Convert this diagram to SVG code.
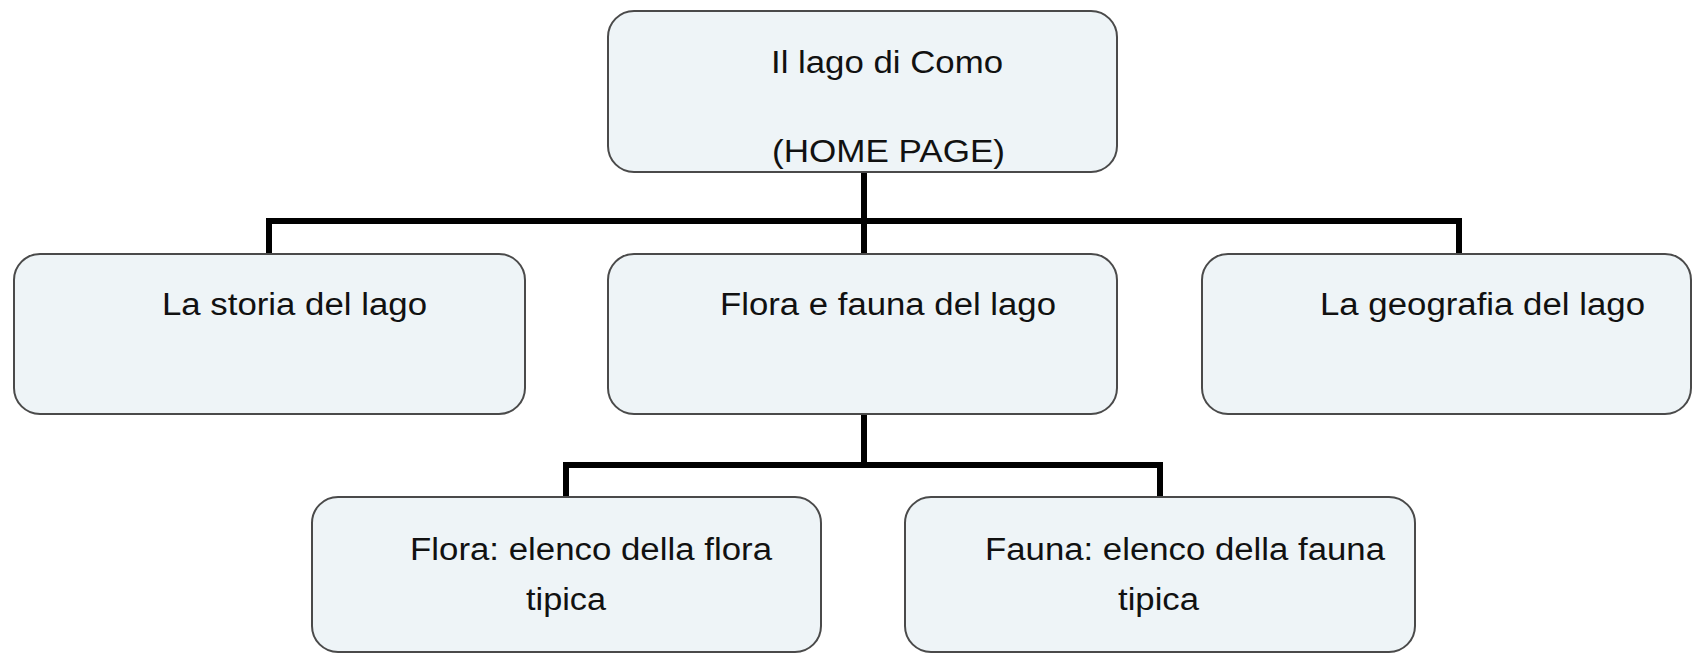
<svg xmlns="http://www.w3.org/2000/svg" width="1693" height="653" viewBox="0 0 1693 653">
<style>
.box{fill:#eef4f7;stroke:#4a4a4a;stroke-width:2}
.lbl{font-family:"Liberation Sans",Arial,sans-serif;font-size:31px;fill:#111}
.con{fill:none;stroke:#000;stroke-width:6;stroke-linejoin:miter;stroke-linecap:butt}
</style>
<rect width="1693" height="653" fill="#fff"/>
<g id="connectors">
<path class="con" d="M864 172 V254"/>
<path class="con" d="M269 254 V221 H1459 V254"/>
<path class="con" d="M864 414 V465"/>
<path class="con" d="M566 497 V465 H1160 V497"/>
</g>
<g id="home">
<rect class="box" x="608" y="11" width="509" height="161" rx="26"/>
<text class="lbl" x="771" y="73" textLength="232" lengthAdjust="spacingAndGlyphs">Il lago di Como</text>
<text class="lbl" x="772" y="162" textLength="233" lengthAdjust="spacingAndGlyphs">(HOME PAGE)</text>
</g>
<g id="storia">
<rect class="box" x="14" y="254" width="511" height="160" rx="26"/>
<text class="lbl" x="162" y="315" textLength="265" lengthAdjust="spacingAndGlyphs">La storia del lago</text>
</g>
<g id="florafauna">
<rect class="box" x="608" y="254" width="509" height="160" rx="26"/>
<text class="lbl" x="720" y="315" textLength="336" lengthAdjust="spacingAndGlyphs">Flora e fauna del lago</text>
</g>
<g id="geografia">
<rect class="box" x="1202" y="254" width="489" height="160" rx="26"/>
<text class="lbl" x="1320" y="315" textLength="325" lengthAdjust="spacingAndGlyphs">La geografia del lago</text>
</g>
<g id="flora">
<rect class="box" x="312" y="497" width="509" height="155" rx="26"/>
<text class="lbl" x="410" y="560" textLength="362" lengthAdjust="spacingAndGlyphs">Flora: elenco della flora</text>
<text class="lbl" x="526" y="610" textLength="80" lengthAdjust="spacingAndGlyphs">tipica</text>
</g>
<g id="fauna">
<rect class="box" x="905" y="497" width="510" height="155" rx="26"/>
<text class="lbl" x="985" y="560" textLength="400" lengthAdjust="spacingAndGlyphs">Fauna: elenco della fauna</text>
<text class="lbl" x="1118" y="610" textLength="81" lengthAdjust="spacingAndGlyphs">tipica</text>
</g>
</svg>
